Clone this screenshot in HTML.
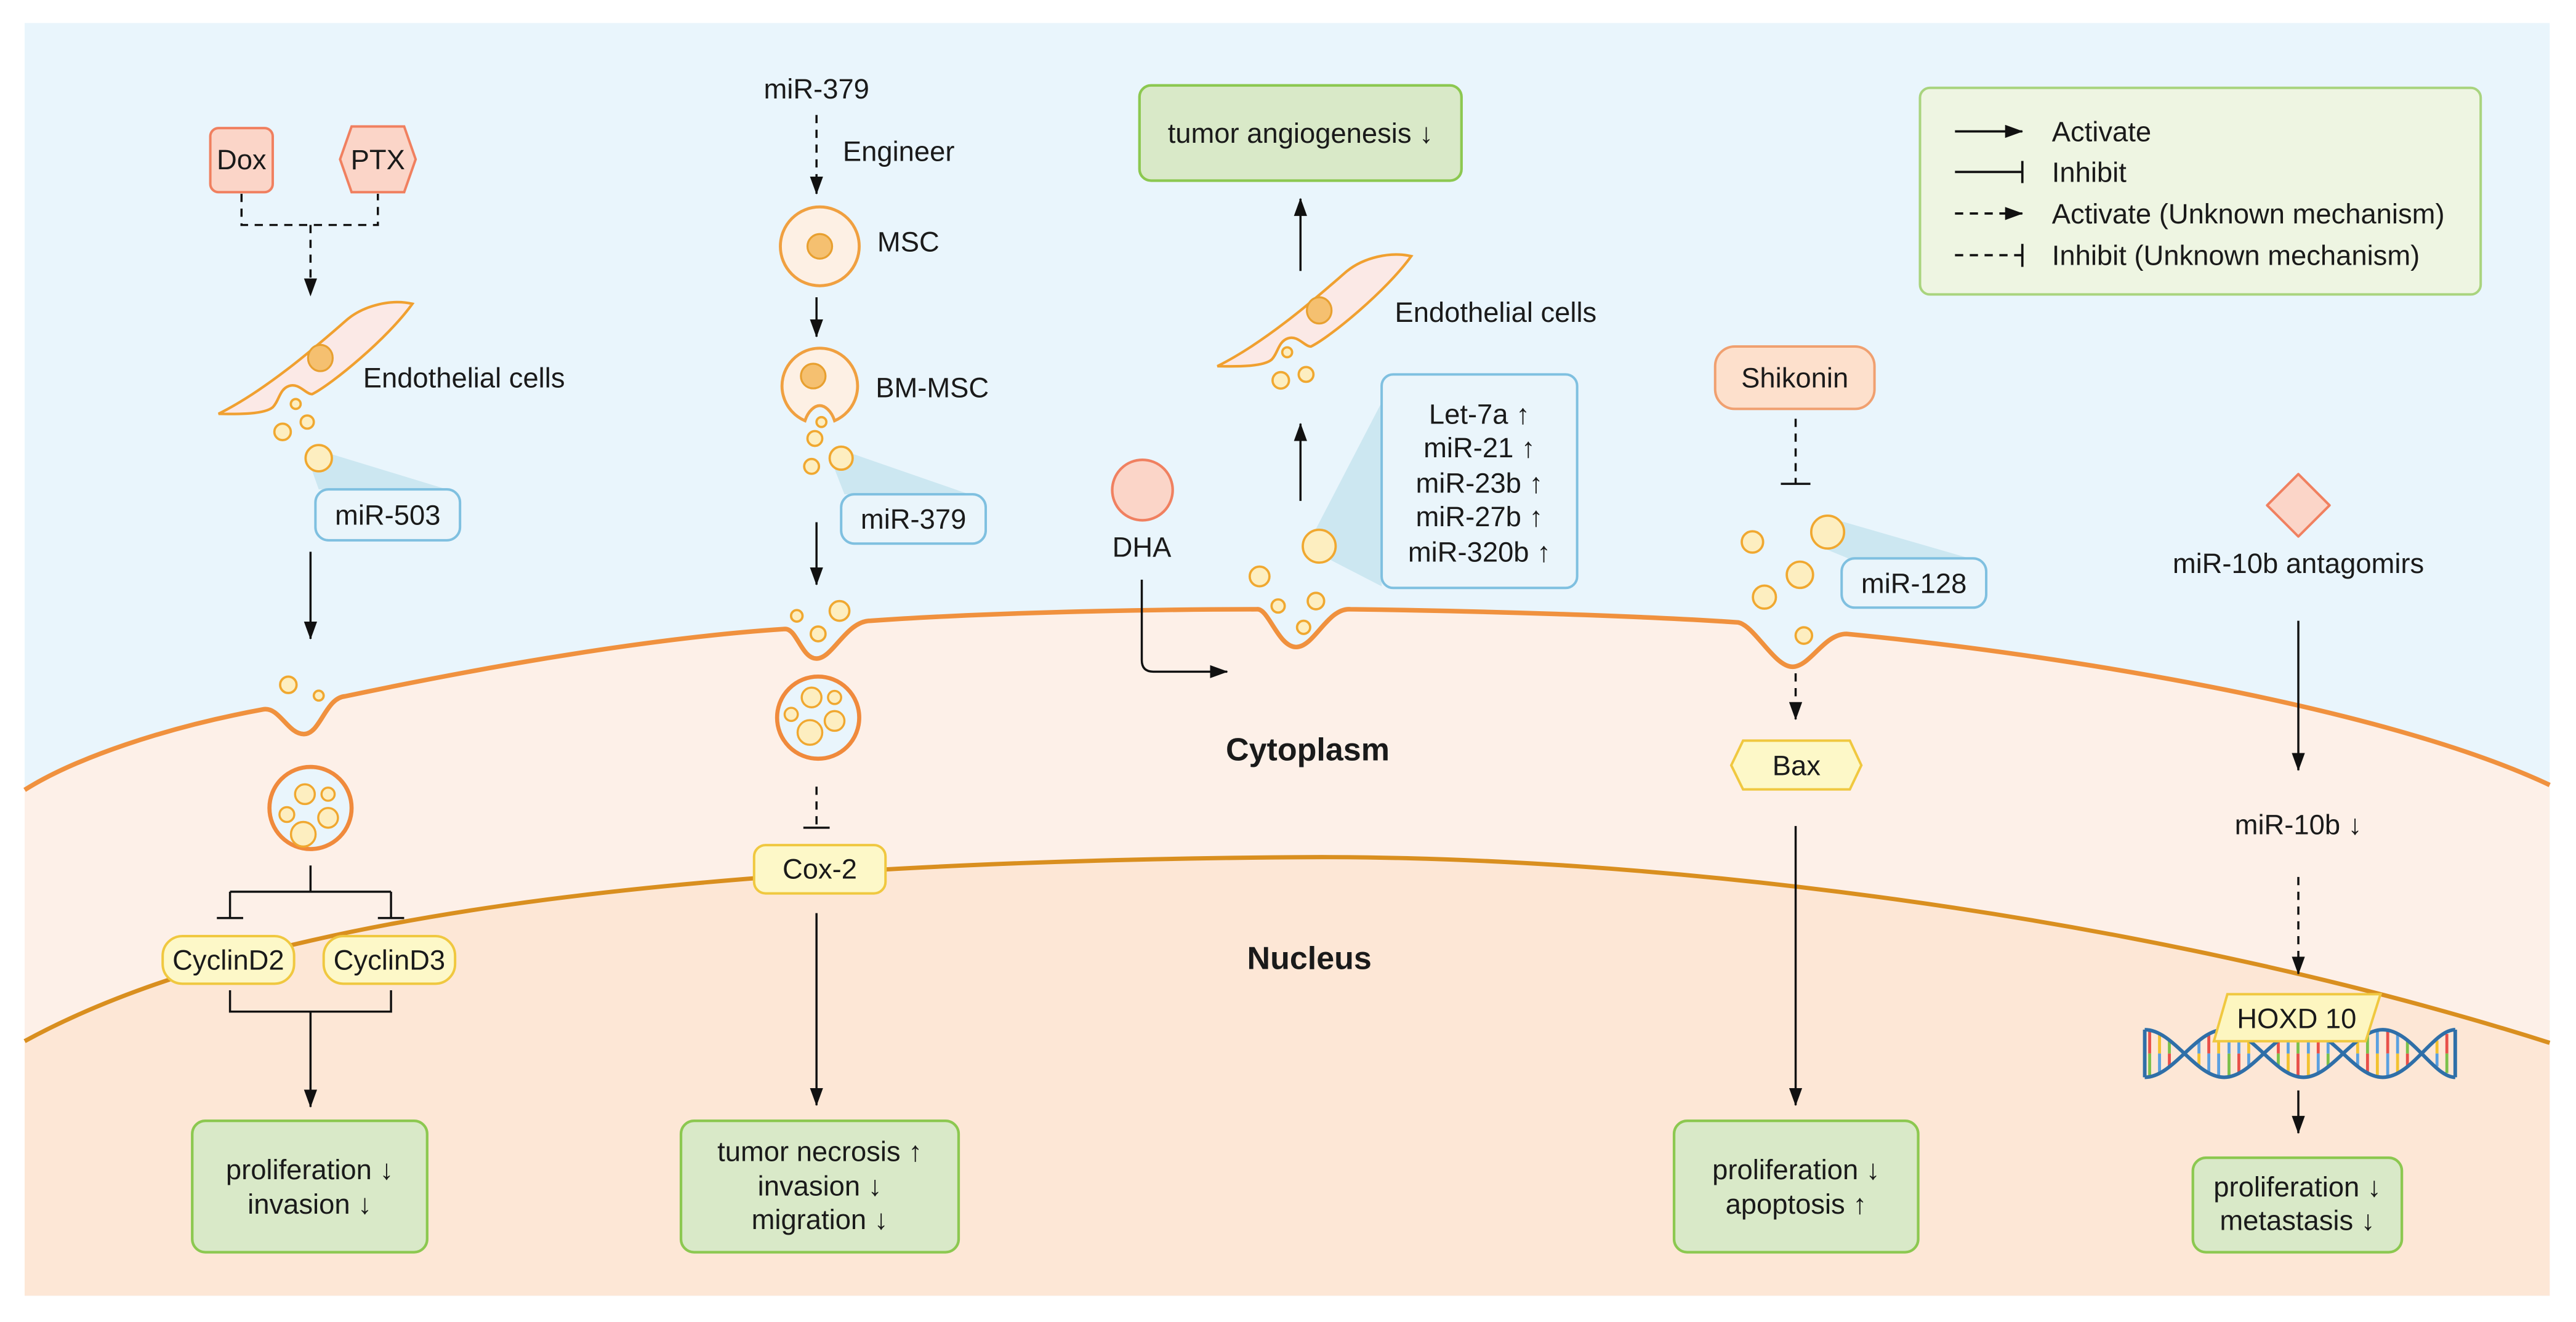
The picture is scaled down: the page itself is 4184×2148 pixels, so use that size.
<!DOCTYPE html>
<html><head><meta charset="utf-8"><style>
html,body{margin:0;padding:0;background:#fff;}
svg{display:block;}
text{font-family:"Liberation Sans",Arial,sans-serif;font-size:17px;fill:#1a1a1a;}
.c{text-anchor:middle;}
.b{font-weight:bold;font-size:19.5px;}
</style></head><body>
<svg width="4184" height="2148" viewBox="0 0 1568 805" xmlns="http://www.w3.org/2000/svg">
<defs>
<marker id="ah" markerUnits="userSpaceOnUse" markerWidth="11" markerHeight="8" refX="10.5" refY="4" orient="auto"><path d="M0,0 L11,4 L0,8 Z" fill="#111"/></marker>
</defs>
<rect x="0" y="0" width="1568" height="805" fill="#fff"/>
<rect x="15" y="14" width="1537" height="775" fill="#e9f5fc"/>
<path d="M15,481 C45,462 100,443 160,432 C170,430 175,447 185,447 C195,447 198,425 210,424 C300,405 400,388 478,383 C485,383 488,401 497,401 C507,401 515,378 530,378 C600,373 700,371 765,371 C772,370 778,394 789,394 C800,394 808,370 822,371 C900,372 1000,375 1058,379 C1068,381 1080,406 1091,406 C1102,406 1110,386 1124,386 C1250,398 1450,430 1552,478 L1552,789 L15,789 Z" fill="#fdf0e8"/>
<path d="M15,634 C150,560 400,525 787,522 C1000,520 1300,555 1552,635 L1552,789 L15,789 Z" fill="#fde7d6"/>
<path d="M15,481 C45,462 100,443 160,432 C170,430 175,447 185,447 C195,447 198,425 210,424 C300,405 400,388 478,383 C485,383 488,401 497,401 C507,401 515,378 530,378 C600,373 700,371 765,371 C772,370 778,394 789,394 C800,394 808,370 822,371 C900,372 1000,375 1058,379 C1068,381 1080,406 1091,406 C1102,406 1110,386 1124,386 C1250,398 1450,430 1552,478" fill="none" stroke="#f0913e" stroke-width="2.8"/>
<path d="M15,634 C150,560 400,525 787,522 C1000,520 1300,555 1552,635" fill="none" stroke="#d98f1f" stroke-width="2.6"/>

<g stroke="#111" stroke-width="1.3" fill="none">
<path d="M147,118 V137 H230 V118" stroke-dasharray="5,4"/>
<path d="M189,137 V180" stroke-dasharray="5,4" marker-end="url(#ah)"/>
<path d="M189,336 V389" marker-end="url(#ah)"/>
<path d="M189,527 V543 M140,543 H238 M140,543 V559 M238,543 V559 M132,559 H148 M230,559 H246"/>
<path d="M140,603 V616 H238 V603"/>
<path d="M189,616 V674" marker-end="url(#ah)"/>
<path d="M497,70 V118" stroke-dasharray="5,4" marker-end="url(#ah)"/>
<path d="M497,181 V205" marker-end="url(#ah)"/>
<path d="M497,318 V356" marker-end="url(#ah)"/>
<path d="M497,479 V504" stroke-dasharray="5,4"/>
<path d="M489,504 H505"/>
<path d="M497,556 V673" marker-end="url(#ah)"/>
<path d="M791.6,165 V121" marker-end="url(#ah)"/>
<path d="M791.6,305 V258" marker-end="url(#ah)"/>
<path d="M695,353 V402 Q695,409 702,409 H747" marker-end="url(#ah)"/>
<path d="M1093,255 V294" stroke-dasharray="5,4"/>
<path d="M1084,294.6 H1102"/>
<path d="M1093,410 V438" stroke-dasharray="5,4" marker-end="url(#ah)"/>
<path d="M1093,503 V673" marker-end="url(#ah)"/>
<path d="M1399,378 V469" marker-end="url(#ah)"/>
<path d="M1399,534 V593" stroke-dasharray="5,4" marker-end="url(#ah)"/>
<path d="M1399,664 V690" marker-end="url(#ah)"/>
</g>

<rect x="128" y="78" width="38" height="39" rx="5" fill="#fbd5c8" stroke="#f08060" stroke-width="1.5"/>
<text class="c" x="147" y="103">Dox</text>
<polygon points="207,97 214,77 246,77 253,97 246,117 214,117" fill="#fbd5c8" stroke="#f08060" stroke-width="1.5"/>
<text class="c" x="230" y="103">PTX</text>

<g id="ec">
<path d="M133,252 C140,252 160,253 166,248 C170,244 170,237 176,235 C182,233 186,240 190,240 C202,234 236,206 251,185 C238,182 222,186 212,194 C198,206 165,236 133,252 Z" fill="#fbe9e6" stroke="#f0a030" stroke-width="1.6"/>
<ellipse cx="195" cy="218" rx="7.5" ry="8" fill="#f5c070" stroke="#e8a030" stroke-width="1.2"/>
</g>
<use href="#ec" transform="translate(608,-29)"/>
<text x="221" y="236">Endothelial cells</text>
<text x="849" y="196">Endothelial cells</text>

<g fill="#c4e4ee" opacity="0.8">
<polygon points="188,281 200,276 272,298 194,298"/>
<polygon points="507,283 518,276 590,301 514,301"/>
<polygon points="800,324 841,245 841,357 808,340"/>
<polygon points="1116,316 1199,340 1125,340 1108,333"/>
</g>

<g fill="#fdeec0" stroke="#f0a830" stroke-width="1.4">
<circle cx="180" cy="246" r="3"/><circle cx="187" cy="257" r="4"/><circle cx="172" cy="263" r="5"/><circle cx="194" cy="279" r="8"/>
<circle cx="175.5" cy="417" r="5"/><circle cx="194" cy="423.6" r="3"/>
<circle cx="500" cy="257" r="3"/><circle cx="496" cy="267" r="4.5"/><circle cx="512" cy="279" r="7"/><circle cx="494" cy="284" r="4.5"/>
<circle cx="485" cy="375" r="3.5"/><circle cx="511" cy="372" r="6"/><circle cx="498" cy="386" r="4.5"/>
<circle cx="783.5" cy="214.5" r="3"/><circle cx="779.6" cy="231.6" r="5"/><circle cx="795" cy="228" r="4.5"/>
<circle cx="803" cy="332.6" r="10"/><circle cx="766.7" cy="351" r="6"/><circle cx="778" cy="369" r="4"/><circle cx="801" cy="366" r="5"/><circle cx="793.5" cy="382" r="4"/>
<circle cx="1066.7" cy="330" r="6.5"/><circle cx="1112.5" cy="324" r="10"/><circle cx="1095.6" cy="350" r="8"/><circle cx="1074" cy="363.6" r="7"/><circle cx="1098" cy="387" r="5"/>
</g>

<circle cx="189" cy="492" r="25" fill="#e9f5fc" stroke="#f08a3c" stroke-width="2.5"/>
<circle cx="498" cy="437" r="25" fill="#e9f5fc" stroke="#f08a3c" stroke-width="2.5"/>
<g fill="#fdeec0" stroke="#f0a830" stroke-width="1.3">
<circle cx="185.6" cy="483.6" r="6"/><circle cx="199.7" cy="483.6" r="4"/><circle cx="174.6" cy="496" r="4.5"/><circle cx="199.7" cy="498" r="6"/><circle cx="184.6" cy="508" r="7.5"/>
<circle cx="494" cy="424.7" r="6"/><circle cx="508" cy="424.7" r="4"/><circle cx="481.6" cy="435" r="4"/><circle cx="508" cy="439" r="6"/><circle cx="493" cy="446" r="7.5"/>
</g>

<circle cx="499" cy="150" r="24" fill="#fdf0e4" stroke="#f0a040" stroke-width="1.8"/>
<circle cx="499" cy="150" r="7.5" fill="#f5c070" stroke="#e8a030" stroke-width="1.2"/>
<path d="M490,256.2 A23,23 0 1 1 508,256.2 C506,250 502,247 499,247 C496,247 492,250 490,256.2 Z" fill="#fdf0e4" stroke="#f0a040" stroke-width="1.8"/>
<circle cx="495" cy="229" r="7.5" fill="#f5c070" stroke="#e8a030" stroke-width="1.2"/>
<text class="c" x="497" y="60">miR-379</text>
<text x="513" y="98">Engineer</text>
<text x="534" y="153">MSC</text>
<text x="533" y="242">BM-MSC</text>

<g fill="#eaf5fb" stroke="#7fc0e0" stroke-width="1.5">
<rect x="192" y="298" width="88" height="31" rx="8"/>
<rect x="512" y="301" width="88" height="30" rx="8"/>
<rect x="841" y="228" width="119" height="130" rx="7"/>
<rect x="1121" y="340" width="88" height="30" rx="8"/>
</g>
<text class="c" x="236" y="319.5">miR-503</text>
<text class="c" x="556" y="322">miR-379</text>
<text class="c" x="900.5" y="258">Let-7a ↑</text>
<text class="c" x="900.5" y="278.5">miR-21 ↑</text>
<text class="c" x="900.5" y="300">miR-23b ↑</text>
<text class="c" x="900.5" y="320.5">miR-27b ↑</text>
<text class="c" x="900.5" y="342">miR-320b ↑</text>
<text class="c" x="1165" y="361">miR-128</text>

<g fill="#fdf8c8" stroke="#f0c840" stroke-width="1.5">
<rect x="99" y="570" width="80" height="29" rx="12"/>
<rect x="197" y="570" width="80" height="29" rx="12"/>
<rect x="459" y="514.6" width="80" height="29.4" rx="7"/>
<polygon points="1053.8,466 1061,451 1126,451 1133,466 1126,480.7 1061,480.7"/>
</g>
<text class="c" x="139" y="590.5">CyclinD2</text>
<text class="c" x="237" y="590.5">CyclinD3</text>
<text class="c" x="499" y="535">Cox-2</text>
<text class="c" x="1093.5" y="472">Bax</text>

<g fill="#d9e9c8" stroke="#8cc850" stroke-width="1.6">
<rect x="117" y="682.5" width="143" height="80" rx="8"/>
<rect x="414.5" y="682.5" width="169" height="80" rx="8"/>
<rect x="1019" y="682.5" width="148.6" height="80" rx="8"/>
<rect x="1334.8" y="705" width="127.2" height="57.5" rx="8"/>
<rect x="693.6" y="52" width="196" height="58" rx="7"/>
</g>
<text class="c" x="188.5" y="718">proliferation ↓</text>
<text class="c" x="188.5" y="739">invasion ↓</text>
<text class="c" x="499" y="707">tumor necrosis ↑</text>
<text class="c" x="499" y="728">invasion ↓</text>
<text class="c" x="499" y="748.5">migration ↓</text>
<text class="c" x="1093.3" y="718">proliferation ↓</text>
<text class="c" x="1093.3" y="739">apoptosis ↑</text>
<text class="c" x="1398.4" y="728.5">proliferation ↓</text>
<text class="c" x="1398.4" y="749">metastasis ↓</text>
<text class="c" x="791.6" y="87">tumor angiogenesis ↓</text>

<circle cx="695.4" cy="298.4" r="18.4" fill="#fbd5c8" stroke="#f08060" stroke-width="1.6"/>
<text class="c" x="695" y="339">DHA</text>

<text class="c b" x="796" y="463">Cytoplasm</text>
<text class="c b" x="797" y="590">Nucleus</text>

<rect x="1044" y="211" width="97" height="38" rx="12" fill="#fde0cc" stroke="#f0a070" stroke-width="1.5"/>
<text class="c" x="1092.5" y="236">Shikonin</text>

<polygon points="1399,288.7 1418,307.7 1399,326.7 1380,307.7" fill="#fbd5c8" stroke="#f08060" stroke-width="1.5" stroke-linejoin="round"/>
<text class="c" x="1399" y="349">miR-10b antagomirs</text>
<text class="c" x="1399" y="508">miR-10b ↓</text>

<g stroke-width="1.8">
<path stroke="#e8504a" d="M1308.5,627.3V641.5M1320.5,641.5V649.6M1344.5,629.6V641.5M1362.8,641.5V653.6M1386.8,633.6V641.5M1398.8,641.5V655.7M1411.1,629.4V641.5M1441.1,641.5V653.4M1453.4,627.3V641.5M1465.4,641.5V649.6M1489.4,629.6V641.5"/>
<path stroke="#f2c230" d="M1314.5,629.4V641.5M1338.5,641.5V649.4M1350.5,627.3V641.5M1368.8,633.4V641.5M1392.8,641.5V653.4M1405.1,641.5V655.7M1435.1,633.6V641.5M1447.1,641.5V655.7M1459.4,641.5V653.6M1483.4,633.6V641.5"/>
<path stroke="#7cc04a" d="M1308.5,641.5V655.7M1320.5,633.4V641.5M1356.8,641.5V655.7M1386.8,641.5V649.4M1398.8,627.3V641.5M1417.1,641.5V649.6M1441.1,629.6V641.5M1465.4,633.4V641.5M1489.4,641.5V653.4"/>
<path stroke="#5aa0e0" d="M1314.5,641.5V653.6M1338.5,633.6V641.5M1344.5,641.5V653.4M1350.5,641.5V655.7M1356.8,627.3V641.5M1362.8,629.4V641.5M1368.8,641.5V649.6M1392.8,629.6V641.5M1405.1,627.3V641.5M1411.1,641.5V653.6M1417.1,633.4V641.5M1435.1,641.5V649.4M1447.1,627.3V641.5M1453.4,641.5V655.7M1459.4,629.4V641.5M1483.4,641.5V649.4"/>
</g>
<g fill="none" stroke="#2f6fa8" stroke-width="2.2">
<path d="M1305.5,627 C1323,627 1336.3,656 1353.8,656 C1371.3,656 1384.6,627 1402.1,627 C1419.6,627 1432.9,656 1450.4,656 C1467.9,656 1481.2,627 1494.5,627"/>
<path d="M1305.5,656 C1323,656 1336.3,627 1353.8,627 C1371.3,627 1384.6,656 1402.1,656 C1419.6,656 1432.9,627 1450.4,627 C1467.9,627 1481.2,656 1494.5,656"/>
<path d="M1305.5,627 V656 M1494.5,627 V656"/>
</g>
<polygon points="1355.8,605.4 1449,605.4 1440,634 1347.6,634" fill="#fdf6c0" stroke="#f0c840" stroke-width="1.5"/>
<text class="c" x="1398" y="626">HOXD 10</text>

<rect x="1168.7" y="53.5" width="341.3" height="125.8" rx="6" fill="#eef5e2" stroke="#a9d47e" stroke-width="1.5"/>
<g stroke="#111" stroke-width="1.4" fill="none">
<path d="M1190,80 H1231" marker-end="url(#ah)"/>
<path d="M1190,104.7 H1231 M1231,98 V111.5"/>
<path d="M1190,130 H1231" stroke-dasharray="5,4" marker-end="url(#ah)"/>
<path d="M1190,155.4 H1231" stroke-dasharray="5,4"/>
<path d="M1231,148.5 V162.5"/>
</g>
<text x="1249" y="86">Activate</text>
<text x="1249" y="110.7">Inhibit</text>
<text x="1249" y="136">Activate (Unknown mechanism)</text>
<text x="1249" y="161.4">Inhibit (Unknown mechanism)</text>
</svg>
</body></html>
